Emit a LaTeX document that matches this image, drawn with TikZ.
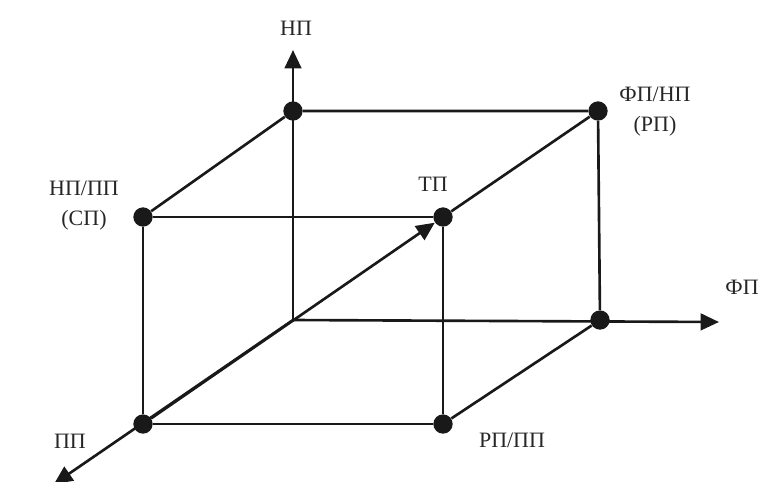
\documentclass[tikz,border=0pt]{standalone}
\usepackage{fontspec}
\setmainfont{Liberation Serif}
\usetikzlibrary{positioning, arrows.meta}

\begin{document}
\begin{tikzpicture}[
  x=0.02cm, y=-0.02cm,
  font=\fontsize{12.5}{17}\selectfont,
  dot/.style={circle, fill=black!90, inner sep=0pt, minimum size=11pt},
  edge/.style={line width=1.5pt, draw=black!90},
  axis/.style={line width=1.5pt, draw=black!90, -{Triangle[length=10.5pt,width=9.5pt]}},
  lbl/.style={align=center, inner sep=0pt, text=black!85}
]
\useasboundingbox (0,0) rectangle (763,481);

% --- cube corners ---
\node[dot] (tl)  at (293,111) {};
\node[dot] (tr)  at (598,111) {};
\node[dot] (fl)  at (143,217) {};
\node[dot] (tp)  at (443,217) {};
\node[dot] (bl)  at (143,424) {};
\node[dot] (br)  at (443,424) {};
\node[dot] (rr)  at (600,320) {};
\coordinate (o) at (293,320);

% --- axis ends ---
\coordinate (up)    at (293,50);
\coordinate (right) at (719,322);
\coordinate (down)  at (54,484);

% --- cube edges ---
\draw[edge] (fl) -- (tp) -- (br) -- (bl) -- (fl);
\draw[edge] (fl) -- (tl) -- (tr) -- (tp);
\draw[edge] (tr) -- (rr) -- (br);

% --- axes ---
\draw[axis] (o) -- (up);
\draw[axis] (o) -- (right);
\draw[axis] (o) -- (down);
\draw[axis] (bl) -- (tp);

% --- labels ---
\node[lbl] (lnp)  at (296,28)  {НП};
\node[lbl] (lfp2) at (655,112) {ФП/НП\\(РП)};
\node[lbl] (ltp)  at (433,184) {ТП};
\node[lbl] (lnpp) at (84,206)  {НП/ПП\\(СП)};
\node[lbl] (lfp)  at (742,287) {ФП};
\node[lbl] (lpp)  at (70,441)  {ПП};
\node[lbl] (lrp)  at (512,440) {РП/ПП};

\end{tikzpicture}
\end{document}
